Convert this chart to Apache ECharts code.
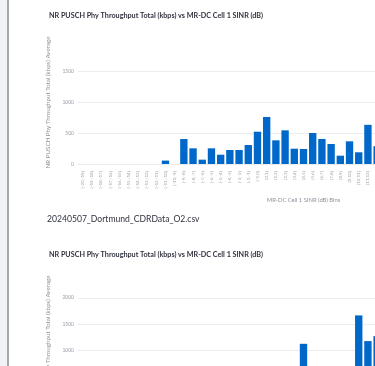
<!DOCTYPE html>
<html><head><meta charset="utf-8">
<script src="https://cdn.jsdelivr.net/npm/echarts@6/dist/echarts.min.js"></script>
<style>html,body{margin:0;padding:0;overflow:hidden;background:#fff;width:375px;height:366px}
#c{position:absolute;left:0;top:0;width:560px;height:480px}</style></head>
<body><div id="c"></div>
<script>
const chartTitle = 'NR PUSCH Phy Throughput Total (kbps) vs MR-DC Cell 1 SINR (dB)';
const fileName = '20240507_Dortmund_CDRData_O2.csv';
const yAxisTitle = 'NR PUSCH Phy Throughput Total (kbps) Average';
const xAxisTitle = 'MR-DC Cell 1 SINR (dB) Bins';
const sinrBins = ['(-20,-19]','(-19,-18]','(-18,-17]','(-17,-16]','(-16,-15]','(-15,-14]','(-14,-13]','(-13,-12]','(-12,-11]','(-11,-10]',
  '(-10,-9]','(-9,-8]','(-8,-7]','(-7,-6]','(-6,-5]','(-5,-4]','(-4,-3]','(-3,-2]','(-2,-1]','(-1,0]',
  '(0,1]','(1,2]','(2,3]','(3,4]','(4,5]','(5,6]','(6,7]','(7,8]','(8,9]','(9,10]',
  '(10,11]','(11,12]','(12,13]','(13,14]','(14,15]','(15,16]','(16,17]','(17,18]','(18,19]','(19,20]',
  '(20,21]','(21,22]','(22,23]','(23,24]','(24,25]','(25,26]','(26,27]','(27,28]','(28,29]'];
// values visible in the picture; bins outside the visible area are null
const throughputFile1 = [null,null,null,null,null,null,null,null,null,55,
  null,403,253,70,253,150,226,226,306,521,
  758,382,543,247,242,500,403,323,134,366,
  189,632,288,null,null,null,null,null,null,null,
  null,null,null,null,null,null,null,null,null];
const throughputFile2 = [null,null,null,null,null,null,null,null,null,null,
  null,null,null,null,null,null,null,null,null,null,
  null,null,null,null,1125,null,null,null,null,null,
  1665,1177,1272,null,null,null,null,null,null,null,
  null,null,null,null,null,null,null,null,null];
const yMax1 = 1984, yMax2 = 2338, yStep = 500;

const FONT = 'Lato';
const BAR = '#0068c9';
const AX = '#8f919c';
function xAx(i){return {type:'category',gridIndex:i,data:sinrBins,
  axisLine:{show:false},axisTick:{show:false},
  axisLabel:{rotate:90,interval:0,fontSize:4.5,color:'#a2a4ad',margin:7,fontFamily:FONT},
  name:xAxisTitle,nameLocation:'middle',nameGap:33,
  nameTextStyle:{fontSize:5.8,color:AX,fontFamily:FONT}};}
function yAx(i,mx){return {type:'value',gridIndex:i,min:0,max:mx,interval:yStep,
  axisLine:{show:false},axisTick:{show:false},
  axisLabel:{fontSize:5,color:'#9a9ca6',margin:4,showMaxLabel:false,fontFamily:FONT,formatter:v=>String(v)},
  splitLine:{show:true,showMaxLine:false,lineStyle:{color:'#ececec',width:1}},
  name:yAxisTitle,nameLocation:'middle',nameGap:22,
  nameTextStyle:{fontSize:6.2,color:AX,fontFamily:FONT}};}
const chart = echarts.init(document.getElementById('c'),null,{renderer:'canvas'});
chart.setOption({
  animation:false,
  backgroundColor:'#fff',
  title:[
    {text:chartTitle,left:49,top:12,padding:0,textStyle:{fontSize:7.2,fontWeight:'bold',color:'#31333f',fontFamily:FONT}},
    {text:fileName,left:47,top:215,padding:0,textStyle:{fontSize:8.6,fontWeight:'normal',color:'#31333f',fontFamily:FONT}},
    {text:chartTitle,left:49,top:251,padding:0,textStyle:{fontSize:7.2,fontWeight:'bold',color:'#31333f',fontFamily:FONT}}
  ],
  graphic:[
    {type:'rect',shape:{x:0,y:0,width:7,height:480},style:{fill:'#f0f2f6'},silent:true},
    {type:'rect',shape:{x:7,y:0,width:2,height:480},style:{fill:'#a6a7ae'},silent:true}
  ],
  grid:[{left:78,top:41,width:451,height:123,outerBoundsMode:'none'},
        {left:78,top:280,width:451,height:123,outerBoundsMode:'none'}],
  xAxis:[xAx(0),xAx(1)],
  yAxis:[yAx(0,yMax1),yAx(1,yMax2)],
  series:[
    {type:'bar',xAxisIndex:0,yAxisIndex:0,data:throughputFile1,barCategoryGap:'20%',itemStyle:{color:BAR}},
    {type:'bar',xAxisIndex:1,yAxisIndex:1,data:throughputFile2,barCategoryGap:'20%',itemStyle:{color:BAR}}
  ]
});
</script></body></html>
